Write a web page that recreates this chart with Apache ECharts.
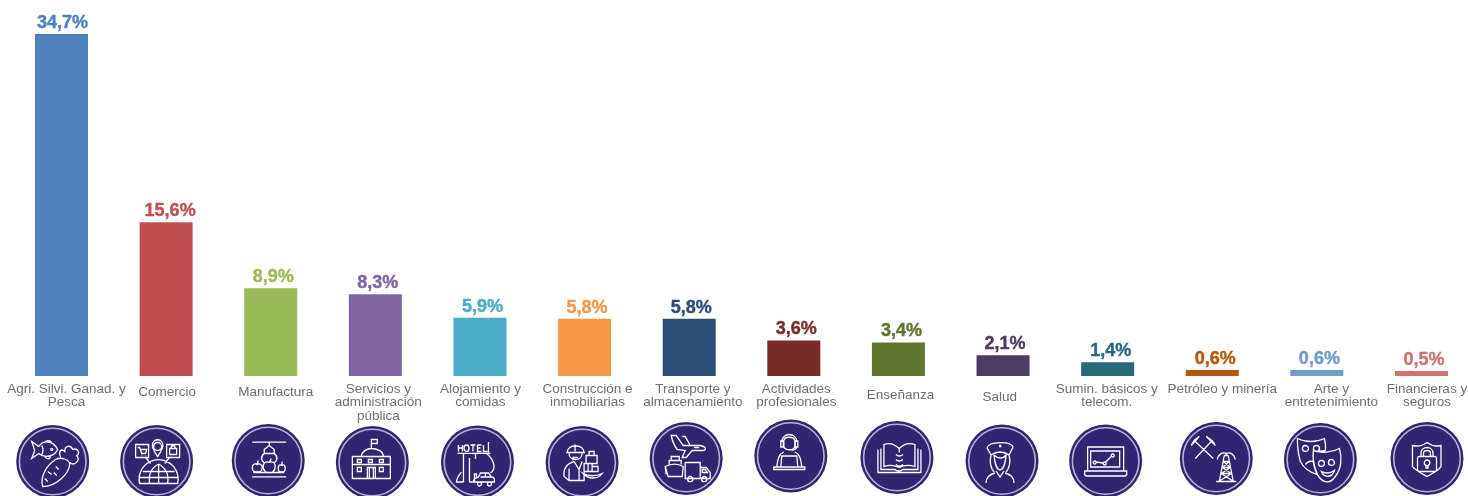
<!DOCTYPE html>
<html>
<head>
<meta charset="utf-8">
<script src="https://cdn.jsdelivr.net/npm/echarts@6/dist/echarts.min.js"></script>
<style>html,body{margin:0;padding:0;background:#fff;overflow:hidden}#c{width:1468px;height:496px}</style>
</head>
<body>
<div id="c"></div>
<script>
// ---- data ----
const categories = [
  'Agri. Silvi. Ganad. y\nPesca','Comercio','Manufactura','Servicios y\nadministración\npública',
  'Alojamiento y\ncomidas','Construcción e\ninmobiliarias','Transporte y\nalmacenamiento','Actividades\nprofesionales',
  'Enseñanza','Salud','Sumin. básicos y\ntelecom.','Petróleo y minería','Arte y\nentretenimiento','Financieras y\nseguros'
];
const values = [34.7,15.6,8.9,8.3,5.9,5.8,5.8,3.6,3.4,2.1,1.4,0.6,0.6,0.5];
const colors = ['#4F81BD','#C0504D','#9BBB59','#8064A2','#4BACC6','#F79646','#2C4D75','#772C2A','#5F7530','#4D3B62','#276A7C','#B65708','#729ACA','#CD7371'];

// ---- layout nudges relative to each category's band centre / baseline ----
const valueLabelDx = [1,4,2.5,2.5,2.5,2.5,2,2.5,3,2,3,3,2.5,2.5];
const catLabelDx = [5,1,5,3,0.5,3,3.7,2.5,2,-3.3,-1,10,14.5,5.5];
const catLabelDy = [0,3.5,3.5,0,0,0,0,0,6,8,0,0,0,0];
const iconDx = [-8.8,-9.5,-2.5,-3,-2.5,-2.5,-3,-3,-1.5,-1,-2,4,3.5,5.5];
const iconY = [85.5,85.5,84.5,86.5,86,86.5,82.5,80,81.5,85,85,82.5,83.5,82.5];

// ---- icon line art, local px around icon centre ----
const iconPaths = [
 // fish + carrot
 'M-21,-20 L-14,-15 C-10,-21 0,-22 5,-12 C2,-5 -8,-3 -14,-8 L-21,-3 L-18,-11 Z M-8,-19 C-7,-21 -3,-22 -1,-19 M-8,-5 C-6,-2 -3,-2 -2,-5 M-1,-13 a1,1 0 1 0 .1,0 M-11,-16 C-9,-12 -9,-10 -11,-7 '+
 'M3,-2 C-5,3 -13,14 -10,25 C3,25 16,13 17,3 C17,-2 8,-5 3,-2 Z M8,-4 C5,-11 9,-13 12,-10 C12,-16 18,-17 20,-12 C25,-14 28,-8 24,-6 C28,-1 22,5 17,1 M-5,10 l4,3 M-8,17 l3,3 M3,5 l3,3 M4,14 l-3,-3',
 // globe + shop pins
 'M-17,22 A19.5,19.5 0 1 1 21,22 Z M2,2.5 V22 M2,2.5 C-8,8 -8,16 -7,22 M2,2.5 C12,8 12,16 11,22 M-14,10 H18 M-17,16 H21 '+
 'M-21,-17 H-8 V-4 H-21 Z M-11,-4 L-6,2 M-19,-14 H-17 L-15,-8 H-11 L-10,-12 H-16 M-15,-6 h.5 M-11,-6 h.5 '+
 'M1,-5 C-4,-12 -5,-15 -4,-18 C-2,-23 4,-23 6,-18 C7,-15 6,-12 1,-5 Z M1,-19 a4,4 0 1 0 .1,0 '+
 'M10,-17 H23 V-4 H10 Z M13,-4 L8,2 M13,-7 V-13 H20 V-7 Z M14.5,-13 C14.5,-17 18.5,-17 18.5,-13',
 // conveyor + apples
 'M-16,-18.3 H18 M-16,16.3 H18 M-15,12 H16 M1,-18 V-15 M-4,-11 L1,-15 L6,-11 L6,-7 L-4,-7 Z M-4,-7 C-9,-3 -6,1 -4,2 M6,-7 C11,-3 8,1 6,2 '+
 'M-16,7 C-16,3 -12,3 -11,4 C-10,3 -6,3 -6,7 C-6,11 -9,12 -11,11 C-13,12 -16,11 -16,7 Z M-11,4 L-10,0 '+
 'M-5,6 C-5,1 -1,1 1,2 C3,1 7,1 7,6 C7,11 3,13 1,12 C-1,13 -5,11 -5,6 Z M1,2 L3,-2 '+
 'M10,8 C10,4 12,4 13.5,5 C15,4 17,4 17,8 C17,11 15,12 13.5,11 C12,12 10,11 10,8 Z M13.5,5 L14,1',
 // public building
 'M-1,-14 V-23 H5 V-19 H-1 M-11,-6 C-11,-11 -5,-14 -1,-14 C5,-14 11,-11 11,-6 M-20,-6 H18 V16 H-20 Z M-20,2 H18 '+
 'M-15,-3 h4 v3 h-4 Z M-4,-3 h4 v3 h-4 Z M7,-3 h4 v3 h-4 Z M-15,5 h4 v4 h-4 Z M7,5 h4 v4 h-4 Z M-5,16 V5 H-3 V16 M1,16 V5 H3 V16 M-5,5 H3',
 // hotel + car
 'M-19,-17 V-10.5 M-15,-17 V-10.5 M-19,-14 H-15 M-11,-17 a2.5,3.2 0 1 0 .1,0 M-7,-17 H-2 M-4.5,-17 V-10.5 M0,-17 H4 M0,-17 V-10.5 H4 M0,-14 H3 M6,-17 V-10.5 H10 M11,-20 V-9 '+
 'M-20,-8.7 H13 M-14,-8.7 V20 M-8,20 V-4 M-2,-8.7 V-3 M9,-8.7 C17,-2 19,7 13,11 M-14,20 H-21 C-21,16 -18,13 -16,10 M-8,20 H-3 V12 H-1 V15 '+
 'M-4,20 C-4,15 0,16 1,15 L3,11 H11 L14,15 C17,15 17,17 17,20 Z M3,15 H14 M8,11 V15 M2,20 a2,2 0 1 0 .1,0 M12,20 a2,2 0 1 0 .1,0',
 // worker with crates on hand truck
 'M-15,-10 C-15,-19 2,-19 2,-10 M-16,-10 H3 M-7,-18 V-11 M-13,-9 C-13,-1 0,-1 0,-9 M-4,-5 h-5 v3 M-8,-1 C-15,1 -19,6 -18,14 L-13,18 H2 V5 M-8,-1 L-3,7 L0,-1 M-3,7 V18 M-13,6 V18 '+
 'M4,-7 H15 V1 H4 Z M7,-7 V-11 H12 V-7 M2,1 H10 V9 H2 Z M6,1 V9 M10,4 H16 V9 H10 M1,11 C6,14 14,14 20,11 C16,17 6,17 1,11 Z',
 // transport: plane, ship, truck
 'M-15,-23 L-10,-23 L-3,-13 L14,-13 C20,-12 21,-8 16,-8 L6,-8 L0,-1 L-4,-1 L-1,-8 L-9,-9 C-12,-13 -14,-18 -15,-23 Z M-4,-22 L-1,-22 L4,-13 M8,-11 h5 '+
 'M-15,-2 H-7 V2 H-15 Z M-17,6 V2 H-5 V6 M-21,8 C-15,5 -8,5 -3,8 L-4,18 H-18 Z M-21,8 L-20,16 '+
 'M-1,4 H14 V20 H-1 Z M14,9 H20 L24,14 V20 H14 M16,11 H19 L21,14 H16 Z '+
 'M4,18 a2.6,2.6 0 1 0 .1,5.2 a2.6,2.6 0 1 0 -.1,-5.2 M18,18 a2.6,2.6 0 1 0 .1,5.2 a2.6,2.6 0 1 0 -.1,-5.2',
 // professional with headset and laptop
 'M-9,-14 C-9,-24 6,-24 6,-14 M-10,-15 h2.5 v6 h-2.5 Z M4.5,-15 h2.5 v6 h-2.5 Z M-7,-15 C-7,-20 4,-20 4,-15 V-10 C4,-5 -7,-5 -7,-10 Z M6,-9 C5,-6 3,-6 1,-6 '+
 'M-7,-4 C-12,-2 -13,3 -14,11 M4,-4 C9,-2 10,3 11,11 M-17,11 H14 V13.5 H-17 Z M-10,11 L-9,0 H6 L7,11',
 // open book
 'M-13,-13 C-8,-15 -2,-13 2.3,-9 C6,-13 12,-15 18,-13 V9 C12,7 6,8 2.3,10 C-2,8 -8,7 -13,9 Z M-16,-9 V12 H-2 C0,14 4,14 6,12 H21 V-9 M-19,-8 V15 H24 V-8 '+
 'M2.3,-9 V-5 M-1,-3 C1,-1 4,-1 6,-3 M-1,2 C1,4 4,4 6,2 M-1,7 C1,9 4,9 6,7',
 // nurse
 'M-15,-13 C-13,-20 9,-20 11,-14 L7,-6 C1,-10 -5,-10 -11,-6 Z M-3,-15 h2.5 M-2,-16.5 v3 M-11,-6 C-13,1 -11,8 -8,11 M7,-6 C9,1 7,8 4,11 M-8,-6 C-7,5 -4,9 -2,9 C0,9 3,5 4,-6 C1,-2 -4,-2 -8,-6 M-6,10 L-2,16 L2,10 M-16,22 C-16,16 -11,13 -7,12 M12,22 C12,16 7,13 3,12',
 // laptop chart
 'M-18,-14 H18 V10 H-18 Z M-15,-10 H14 V6 H-15 Z M-21,10 H21 V13 C21,14 20,15 19,15 H-19 C-20,15 -21,14 -21,13 Z M-11,0 a1.5,1.5 0 1 0 .1,0 M-1,1 a1.5,1.5 0 1 0 .1,0 M7,-7 a1.5,1.5 0 1 0 .1,0 M-10,1 L-2,2 M0,1 L6,-5',
 // crossed hammers + derrick
 'M-21,0 L-5,-17 M-3,0 L-21,-17 M-25,-13 L-17,-22 M-25,-13 C-23,-18 -21,-20 -17,-22 M-10,-22 L-1,-13 M-10,-22 C-6,-20 -3,-18 -1,-13 '+
 'M3,23 L8,-3 M17,23 L12,-3 M0,23 H20 M7,3 H13 M6,9 H14 M5,15 H15 M7,3 L14,9 M13,3 L6,9 M6,9 L15,15 M14,9 L5,15 M5,15 L16,22 M15,15 L4,22 M8,-3 H12 M10,-6 V-3 M10,-5 C6,-7 2,-4 1,1 M10,-5 C14,-7 18,-4 19,1',
 // theatre masks
 'M-23,-21 C-15,-17 -4,-17 4,-21 C6,-14 5,-11 5,-9 C0,-8 -4,-8 -7,-9 C-8,-1 -6,8 -3,15 C-10,13 -17,8 -20,2 C-22,-5 -23,-12 -23,-21 Z M-15,-14 a3,3 0 1 0 .1,6 a3,3 0 1 0 -.1,-6 M-4,-14 a3,3 0 1 0 .1,6 a3,3 0 1 0 -.1,-6 M-15,5 C-12,1 -9,1 -6,3 '+
 'M-7,-9 C0,-6 12,-7 19,-11 C22,-2 21,9 15,17 C10,24 4,24 -1,18 C-6,12 -8,2 -7,-9 Z M1,1 a3,3 0 1 0 .1,6 a3,3 0 1 0 -.1,-6 M11,0 a3,3 0 1 0 .1,6 a3,3 0 1 0 -.1,-6 M1,12 C5,14 10,14 14,11 C12,18 4,19 1,12 Z',
 // shield lock
 'M0,-16 C-4,-13 -10,-12 -14.5,-13 V8 C-12,12 -5,15 0,18 C5,15 12,12 14,8 V-13 C10,-12 4,-13 0,-16 Z M-6,-2 V-5 C-6,-13 6,-13 6,-5 V-2 M-3.5,-2 V-5 C-3.5,-9 3.5,-9 3.5,-5 V-2 M-8,-2 H8 C9,-2 9.5,-1.5 9.5,0 V11 C9.5,12.5 9,13 8,13 H-8 C-9,13 -9.5,12.5 -9.5,11 V0 C-9.5,-1.5 -9,-2 -8,-2 Z M0,1.5 a2.8,2.8 0 1 0 .1,0 M-1,7 V9.5 H1 V7'
];

const iconFill = '#312470';
const iconRing = '#B7B2D2';

const chart = echarts.init(document.getElementById('c'), null, {renderer:'canvas'});
chart.setOption({
  animation:false,
  backgroundColor:'#ffffff',
  grid:{left:9.2,width:1464.6,top:34,height:342,containLabel:false,outerBoundsMode:'none'},
  xAxis:{
    type:'category',
    data:categories.map((c,i)=>{
      const dx=catLabelDx[i], dy=catLabelDy[i];
      return {value:c,textStyle:{padding:dx>=0?[dy,0,0,2*dx]:[dy,-2*dx,0,0]}};
    }),
    axisLine:{show:false},axisTick:{show:false},
    axisLabel:{interval:0,margin:6,color:'#6F6F6F',fontFamily:'Liberation Sans',fontSize:13.5,lineHeight:13.8,align:'center',verticalAlign:'top'}
  },
  yAxis:{type:'value',min:0,max:34.7,show:false,splitLine:{show:false}},
  series:[
    {
      type:'bar',barWidth:53,silent:true,
      data:values.map((v,i)=>({
        value:v,
        itemStyle:{color:colors[i]},
        label:{show:true,position:'top',distance:2,offset:[valueLabelDx[i],0],formatter:String(v).replace('.',',')+'%',
          color:colors[i],fontFamily:'Liberation Sans',fontWeight:'bold',fontSize:18,textBorderColor:colors[i],textBorderWidth:0.4}
      }))
    },
    {
      type:'custom',silent:true,clip:false,
      data:categories.map((c,i)=>[i,0]),
      encode:{x:0,y:1},
      renderItem:function(params,api){
        const i=api.value(0), p=api.coord([i,0]);
        const cx=p[0]+iconDx[i], cy=p[1]+iconY[i];
        return {type:'group',x:cx,y:cy,children:[
          {type:'circle',shape:{cx:0,cy:0,r:36.5},style:{fill:iconFill}},
          {type:'circle',shape:{cx:0,cy:0,r:33.3},style:{fill:'none',stroke:iconRing,lineWidth:1.6}},
          {type:'path',shape:{pathData:iconPaths[i]},style:{fill:'none',stroke:'#ffffff',lineWidth:1.3}}
        ]};
      }
    }
  ]
});
</script>
</body>
</html>
